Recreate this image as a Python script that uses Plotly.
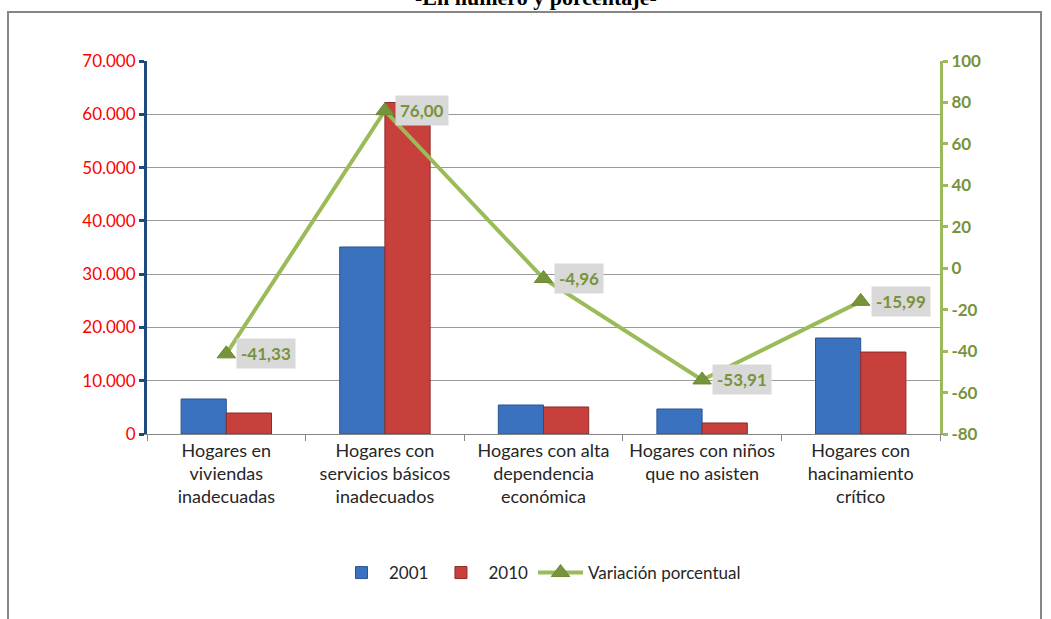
import plotly.graph_objects as go

categories = [
    "Hogares en<br>viviendas<br>inadecuadas",
    "Hogares con<br>servicios básicos<br>inadecuados",
    "Hogares con alta<br>dependencia<br>económica",
    "Hogares con niños<br>que no asisten",
    "Hogares con<br>hacinamiento<br>crítico",
]
values_2001 = [6570, 35100, 5440, 4690, 18010]
values_2010 = [3940, 62200, 5070, 2070, 15380]
variacion = [-41.33, 76.00, -4.96, -53.91, -15.99]

left_ticks = [0, 10000, 20000, 30000, 40000, 50000, 60000, 70000]
right_ticks = [-80, -60, -40, -20, 0, 20, 40, 60, 80, 100]

W, H = 1051, 619
L, R, T, B = 147, 111, 61, 185
pw, ph = W - L - R, H - T - B

def px_to_paper_x(px):
    return (px - L) / pw

def px_to_paper_y(py):
    return (H - B - py) / ph

fig = go.Figure()
fig.add_trace(go.Bar(
    x=categories, y=values_2001, name="2001",
    marker=dict(color="#3A72C0", line=dict(color="#2A5590", width=1)),
))
fig.add_trace(go.Bar(
    x=categories, y=values_2010, name="2010",
    marker=dict(color="#C8403C", line=dict(color="#8E2A28", width=1)),
))
fig.add_trace(go.Scatter(
    x=categories, y=variacion, name="Variación porcentual", yaxis="y2",
    mode="lines+markers",
    line=dict(color="#9BBB59", width=4),
    marker=dict(symbol="triangle-up", size=16, color="#77933C",
                line=dict(color="#6A8A32", width=1)),
))

for c, v in zip(categories, variacion):
    fig.add_annotation(
        x=c, y=v, xref="x", yref="y2",
        text="<b>" + f"{v:.2f}".replace(".", ",") + "</b>",
        showarrow=False, xanchor="left", yanchor="middle", xshift=10,
        bgcolor="#D9D9D9", borderpad=4,
        font=dict(family="Lato, Open Sans, sans-serif", size=17, color="#77933C"),
    )

# Title (partially cut at top, as in the reference)
fig.add_annotation(
    x=px_to_paper_x(536), y=px_to_paper_y(-3), xref="paper", yref="paper",
    text="<b>-En número y porcentaje-</b>", showarrow=False,
    xanchor="center", yanchor="middle",
    font=dict(family="Liberation Serif, Times New Roman, serif", size=22, color="#000000"),
)

# outer border
fig.add_shape(
    type="rect", xref="paper", yref="paper",
    x0=px_to_paper_x(8), x1=px_to_paper_x(1041),
    y0=px_to_paper_y(640), y1=px_to_paper_y(12),
    line=dict(color="#868686", width=2), fillcolor="rgba(0,0,0,0)", layer="below",
)

fig.update_layout(
    width=W, height=H,
    margin=dict(l=L, r=R, t=T, b=B),
    paper_bgcolor="white", plot_bgcolor="white",
    separators=",.",
    barmode="group", bargap=0.43, bargroupgap=0,
    font=dict(family="Lato, Open Sans, sans-serif", size=17, color="#262626"),
    showlegend=True,
    legend=dict(
        orientation="h", x=px_to_paper_x(540), xanchor="center",
        y=px_to_paper_y(573), yanchor="middle",
        font=dict(size=17, color="#262626"), itemwidth=45,
        bgcolor="rgba(0,0,0,0)",
    ),
    xaxis=dict(
        showline=True, linecolor="#868686", linewidth=1,
        ticks="outside", tickson="boundaries", ticklen=6, tickcolor="#868686",
        tickfont=dict(size=18, color="#262626"),
    ),
    yaxis=dict(
        range=[0, 70000], tickvals=left_ticks, tickformat=",.0f",
        showline=True, linecolor="#1F497D", linewidth=3,
        ticks="outside", ticklen=5, tickcolor="#1F497D", tickwidth=3,
        showgrid=True, gridcolor="#9A9A9A", gridwidth=1,
        tickfont=dict(size=17, color="#FF0000"),
        zeroline=False,
    ),
    yaxis2=dict(
        range=[-80, 100], tickvals=right_ticks,
        ticktext=[str(t) for t in right_ticks],
        overlaying="y", side="right",
        showline=True, linecolor="#9BBB59", linewidth=3,
        ticks="outside", ticklen=5, tickcolor="#9BBB59", tickwidth=3,
        showgrid=False, zeroline=False,
        tickfont=dict(size=17, color="#77933C", weight="bold"),
    ),
)

fig.write_html("out.html", config={"displayModeBar": False},
               post_script="document.body.style.margin='0';")
